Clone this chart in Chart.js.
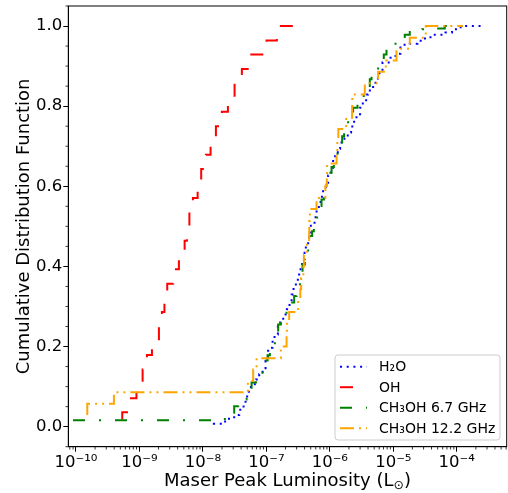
<!DOCTYPE html>
<html>
<head>
<meta charset="utf-8">
<script src="https://cdn.jsdelivr.net/npm/chart.js@4.4.1/dist/chart.umd.min.js"></script>
<style>
  html, body { margin: 0; padding: 0; background: #fff; }
</style>
</head>
<body>
<canvas id="cdf" width="508" height="493"></canvas>
<script>
// log10 of maser peak luminosity (L_sun) at each step, and the CDF level there
const h2oLogL = [-7.827, -7.696, -7.606, -7.507, -7.428, -7.359, -7.328, -7.276, -7.244, -7.165,
  -7.113, -7.060, -7.013, -6.972, -6.902, -6.871, -6.819, -6.783, -6.735, -6.677,
  -6.635, -6.603, -6.572, -6.535, -6.504, -6.461, -6.436, -6.398, -6.378, -6.342,
  -6.299, -6.241, -6.209, -6.173, -6.146, -6.106, -6.063, -6.027, -5.980, -5.948,
  -5.874, -5.838, -5.769, -5.717, -5.665, -5.617, -5.580, -5.523, -5.480, -5.428,
  -5.397, -5.318, -5.280, -5.224, -5.170, -5.044, -4.965, -4.887, -4.740, -4.619,
  -4.520, -4.414, -4.320, -4.178, -4.074, -3.980, -3.874, -3.743, -3.602];
const h2oCdf = [0.005, 0.007, 0.013, 0.020, 0.029, 0.042, 0.059, 0.075, 0.093, 0.106,
  0.118, 0.131, 0.146, 0.164, 0.197, 0.216, 0.230, 0.250, 0.264, 0.280,
  0.293, 0.311, 0.330, 0.347, 0.363, 0.380, 0.397, 0.418, 0.434, 0.455,
  0.472, 0.506, 0.523, 0.541, 0.557, 0.574, 0.594, 0.609, 0.627, 0.642,
  0.675, 0.694, 0.709, 0.720, 0.734, 0.749, 0.767, 0.780, 0.796, 0.811,
  0.829, 0.839, 0.853, 0.869, 0.882, 0.909, 0.921, 0.931, 0.953, 0.956,
  0.963, 0.969, 0.978, 0.978, 0.984, 0.992, 0.997, 1.0, 1.0];

const ohLogL = [-9.271, -9.134, -9.047, -8.950, -8.882, -8.803, -8.693, -8.646, -8.606, -8.562,
  -8.468, -8.378, -8.288, -8.252, -8.213, -8.157, -8.083, -8.027, -7.953, -7.879,
  -7.795, -7.701, -7.606, -7.501, -7.386, -7.276, -6.997, -6.835, -6.362];
const ohCdf = [0.018, 0.036, 0.071, 0.107, 0.143, 0.179, 0.214, 0.250, 0.286, 0.321,
  0.357, 0.393, 0.429, 0.464, 0.500, 0.536, 0.571, 0.607, 0.643, 0.679,
  0.714, 0.750, 0.786, 0.821, 0.857, 0.893, 0.929, 0.964, 1.000];

const ch3oh67LogL = [-10.047, -7.654, -7.507, -7.444, -7.312, -7.233, -7.165, -7.060, -6.981, -6.945,
  -6.866, -6.814, -6.772, -6.682, -6.562, -6.524, -6.472, -6.430, -6.394, -6.342,
  -6.279, -6.252, -6.200, -6.131, -6.094, -6.052, -5.973, -5.937, -5.879, -5.806,
  -5.775, -5.712, -5.633, -5.564, -5.465, -5.370, -5.343, -5.239, -5.150, -5.107,
  -4.965, -4.819, -4.740, -4.546, -4.320, -4.189, -3.980, -3.743];
const ch3oh67Cdf = [0.016, 0.016, 0.035, 0.051, 0.068, 0.097, 0.110, 0.131, 0.165, 0.178,
  0.205, 0.235, 0.255, 0.280, 0.310, 0.326, 0.355, 0.380, 0.405, 0.434,
  0.476, 0.488, 0.517, 0.551, 0.567, 0.597, 0.634, 0.648, 0.675, 0.705,
  0.725, 0.755, 0.782, 0.796, 0.819, 0.842, 0.867, 0.889, 0.917, 0.929,
  0.949, 0.967, 0.978, 0.988, 0.992, 0.994, 1.0, 1.0];

const ch3oh122LogL = [-9.822, -9.402, -7.291, -7.208, -7.154, -6.772, -6.682, -6.677, -6.641, -6.499,
  -6.465, -6.452, -6.417, -6.409, -6.362, -6.326, -6.323, -6.315, -6.209, -6.071,
  -6.047, -6.043, -5.894, -5.882, -5.866, -5.743, -5.649, -5.646, -5.449, -5.239,
  -5.118, -4.950, -4.740, -4.488, -3.906];
const ch3oh122Cdf = [0.029, 0.057, 0.086, 0.114, 0.143, 0.171, 0.200, 0.229, 0.257, 0.286,
  0.314, 0.343, 0.371, 0.400, 0.429, 0.457, 0.486, 0.514, 0.543, 0.571,
  0.600, 0.629, 0.657, 0.686, 0.714, 0.743, 0.771, 0.800, 0.829, 0.857,
  0.886, 0.914, 0.943, 0.971, 1.000];

const seriesLabels = ['H₂O', 'OH', 'CH₃OH 6.7 GHz', 'CH₃OH 12.2 GHz'];

const xTickValues = [1e-10, 1e-9, 1e-8, 1e-7, 1e-6, 1e-5, 1e-4];
const xTickLabels = ['10⁻¹⁰', '10⁻⁹', '10⁻⁸', '10⁻⁷', '10⁻⁶', '10⁻⁵', '10⁻⁴'];
const yTickValues = [0, 0.2, 0.4, 0.6, 0.8, 1.0];
const yTickLabels = ['0.0', '0.2', '0.4', '0.6', '0.8', '1.0'];

const FONT = 'DejaVu Sans';
Chart.defaults.font.family = FONT;
Chart.defaults.color = '#000';

function toPoints(logs, cdf) {
  return logs.map((v, i) => ({ x: Math.pow(10, v), y: cdf[i] }));
}

// minor ticks, top/right spines, legend and the x label with its subscript
const axesExtras = {
  id: 'axesExtras',
  afterDraw(chart) {
    const { ctx, chartArea: a, scales: { x, y } } = chart;
    ctx.save();
    ctx.strokeStyle = '#000';
    ctx.lineWidth = 0.8;
    ctx.beginPath();
    for (let d = -11; d <= -3; d++) {
      for (let m = 2; m <= 9; m++) {
        const v = m * Math.pow(10, d);
        if (v < x.min || v > x.max) continue;
        const px = x.getPixelForValue(v);
        ctx.moveTo(px, a.bottom);
        ctx.lineTo(px, a.bottom + 2.8);
      }
    }
    for (let k = -1; k <= 21; k++) {
      const v = k * 0.05;
      if (k % 4 === 0 || v < y.min - 1e-9 || v > y.max + 1e-9) continue;
      const py = y.getPixelForValue(v);
      ctx.moveTo(a.left, py);
      ctx.lineTo(a.left - 2.8, py);
    }
    ctx.stroke();

    ctx.lineWidth = 1;
    ctx.strokeRect(a.left, a.top, a.right - a.left, a.bottom - a.top);

    // legend, lower right
    const bw = 165, bh = 85;
    const bx = a.right - 6.7 - bw, by = a.bottom - 6.7 - bh;
    ctx.beginPath();
    ctx.roundRect(bx, by, bw, bh, 3);
    ctx.fillStyle = 'rgba(255,255,255,0.8)';
    ctx.fill();
    ctx.strokeStyle = '#cccccc';
    ctx.lineWidth = 1;
    ctx.stroke();
    ctx.font = '14px "' + FONT + '"';
    ctx.textBaseline = 'middle';
    ctx.textAlign = 'left';
    chart.data.datasets.forEach((ds, i) => {
      const ry = by + 11.7 + i * 20.5;
      ctx.beginPath();
      ctx.setLineDash(ds.borderDash);
      ctx.strokeStyle = ds.borderColor;
      ctx.lineWidth = ds.borderWidth;
      ctx.moveTo(bx + 5, ry);
      ctx.lineTo(bx + 32, ry);
      ctx.stroke();
      ctx.setLineDash([]);
      ctx.fillStyle = '#000';
      ctx.fillText(ds.label, bx + 44, ry + 1);
    });

    // x axis label: Maser Peak Luminosity (L_sun)
    const main = '18px "' + FONT + '"', small = '12.6px "' + FONT + '"';
    const p1 = 'Maser Peak Luminosity (L', p2 = '⊙', p3 = ')';
    ctx.font = main;
    const w1 = ctx.measureText(p1).width, w3 = ctx.measureText(p3).width;
    ctx.font = small;
    const w2 = ctx.measureText(p2).width;
    let tx = (a.left + a.right) / 2 - (w1 + w2 + w3) / 2;
    const base = a.bottom + 39.5;
    ctx.textBaseline = 'alphabetic';
    ctx.fillStyle = '#000';
    ctx.font = main;
    ctx.fillText(p1, tx, base);
    tx += w1;
    ctx.font = small;
    ctx.fillText(p2, tx, base + 3);
    tx += w2;
    ctx.font = main;
    ctx.fillText(p3, tx, base);
    ctx.restore();
  }
};

new Chart(document.getElementById('cdf'), {
  type: 'line',
  data: {
    datasets: [
      { label: seriesLabels[0], data: toPoints(h2oLogL, h2oCdf), borderColor: '#0000ff',
        borderDash: [2, 4.7], order: 3 },
      { label: seriesLabels[1], data: toPoints(ohLogL, ohCdf), borderColor: '#ff0000',
        borderDash: [13, 16], order: 2 },
      { label: seriesLabels[2], data: toPoints(ch3oh67LogL, ch3oh67Cdf), borderColor: '#008000',
        borderDash: [12, 14, 2, 14], order: 1 },
      { label: seriesLabels[3], data: toPoints(ch3oh122LogL, ch3oh122Cdf), borderColor: '#ffa500',
        borderDash: [14, 5, 2, 5, 2, 5], order: 0 }
    ].map(ds => Object.assign(ds, { stepped: 'after', borderWidth: 2, pointRadius: 0, fill: false }))
  },
  options: {
    responsive: false,
    animation: false,
    layout: { padding: { top: 6, right: 1.3, bottom: 0, left: 0 } },
    plugins: { legend: { display: false }, tooltip: { enabled: false } },
    scales: {
      x: {
        type: 'logarithmic',
        min: Math.pow(10, -10.121),
        max: Math.pow(10, -3.213),
        afterBuildTicks: s => { s.ticks = xTickValues.map(v => ({ value: v })); },
        afterFit: s => { s.height = 46.3; s.paddingLeft = 0; s.paddingRight = 0; },
        ticks: {
          autoSkip: false, maxRotation: 0, padding: 1,
          font: { size: 16.5 },
          callback: (v, i) => xTickLabels[i]
        },
        grid: { drawOnChartArea: false, tickLength: 5, tickColor: '#000', tickWidth: 1 },
        border: { color: '#000', width: 1 }
      },
      y: {
        min: -0.05,
        max: 1.05,
        afterBuildTicks: s => { s.ticks = yTickValues.map(v => ({ value: v })); },
        afterFit: s => { s.width = 68.3; s.paddingTop = 0; s.paddingBottom = 0; },
        ticks: {
          padding: 1,
          font: { size: 16.5 },
          callback: (v, i) => yTickLabels[i]
        },
        grid: { drawOnChartArea: false, tickLength: 5, tickColor: '#000', tickWidth: 1 },
        border: { color: '#000', width: 1 },
        title: {
          display: true,
          text: 'Cumulative Distribution Function',
          font: { size: 18 },
          padding: { top: 14, bottom: 0 }
        }
      }
    }
  },
  plugins: [axesExtras]
});
</script>
</body>
</html>
